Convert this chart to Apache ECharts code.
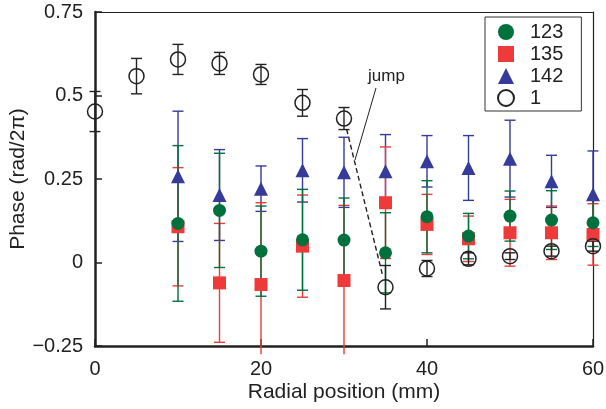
<!DOCTYPE html>
<html>
<head>
<meta charset="utf-8">
<title>Phase vs radial position</title>
<script src="https://cdn.jsdelivr.net/npm/echarts@6/dist/echarts.min.js"></script>
<style>
    html, body { margin: 0; padding: 0; background: #fff; }
    #main { width: 606px; height: 409px; }
</style>
</head>
<body>
<div id="main"></div>
<script>
    // radial positions (mm)
    var pos1 = [0, 5, 10, 15, 20, 25, 30, 35, 40, 45, 50, 55, 60];
    var pos = [10, 15, 20, 25, 30, 35, 40, 45, 50, 55, 60];

    // phase (rad/2pi) and error bars
    var phase1 = [0.452, 0.558, 0.608, 0.596, 0.563, 0.478, 0.431, -0.074, -0.018, 0.011, 0.019, 0.034, 0.049];
    var err1 = [0.06, 0.053, 0.045, 0.033, 0.03, 0.04, 0.033, 0.065, 0.024, 0.018, 0.01, 0.015, 0.015];

    var phase123 = [0.117, 0.156, 0.034, 0.068, 0.067, 0.029, 0.137, 0.079, 0.139, 0.127, 0.119];
    var err123 = [0.233, 0.171, 0.135, 0.151, 0.126, 0.12, 0.108, 0.068, 0.075, 0.088, 0.071];

    var phase135 = [0.107, -0.061, -0.066, 0.049, -0.054, 0.179, 0.114, 0.071, 0.089, 0.089, 0.084];
    var err135 = [0.177, 0.178, 0.245, 0.153, 0.225, 0.167, 0.09, 0.068, 0.1, 0.08, 0.092];

    var phase142 = [0.258, 0.202, 0.221, 0.276, 0.27, 0.273, 0.303, 0.283, 0.311, 0.243, 0.204];
    var err142 = [0.195, 0.136, 0.068, 0.095, 0.105, 0.11, 0.077, 0.097, 0.115, 0.078, 0.13];

    var yTicks = [-0.25, 0, 0.25, 0.5, 0.75];
    var yTickText = ['\u22120.25', '0', '0.25', '0.5', '0.75'];

    var FONT = '"Liberation Sans", Arial, Helvetica, sans-serif';
    var INK = '#222';
    var GREEN = '#00703c';
    var RED = '#ee3a3a';
    var BLUE = '#363b99';
    var LOW_CLIP = -0.275; // bars are cut just under the axis in the original

    function pairs(xs, ys) {
        return xs.map(function (x, i) { return [x, ys[i]]; });
    }

    function errBars(xs, ys, es, color, z) {
        return {
            type: 'custom',
            silent: true,
            clip: false,
            z: z,
            data: xs.map(function (x, i) { return [x, ys[i] - es[i], ys[i] + es[i]]; }),
            encode: { x: 0, y: [1, 2] },
            renderItem: function (params, api) {
                var x = api.value(0);
                var lo = api.coord([x, Math.max(api.value(1), LOW_CLIP)]);
                var hi = api.coord([x, api.value(2)]);
                var w = 5.5;
                var st = { stroke: color, lineWidth: 1.4 };
                var kids = [
                    { type: 'line', shape: { x1: lo[0], y1: lo[1], x2: hi[0], y2: hi[1] }, style: st },
                    { type: 'line', shape: { x1: hi[0] - w, y1: hi[1], x2: hi[0] + w, y2: hi[1] }, style: st }
                ];
                if (api.value(1) >= LOW_CLIP) {
                    kids.push({ type: 'line', shape: { x1: lo[0] - w, y1: lo[1], x2: lo[0] + w, y2: lo[1] }, style: st });
                }
                return { type: 'group', children: kids };
            }
        };
    }

    // dashed "jump" between 30 mm and 35 mm of series 1
    var jumpFrom = pos1.indexOf(30);
    var jumpData = [[pos1[jumpFrom], phase1[jumpFrom], pos1[jumpFrom + 1], phase1[jumpFrom + 1]]];

    var frameAxis = {
        axisLine: { show: true, onZero: false, lineStyle: { color: INK, width: 1.2 } },
        axisTick: { show: false },
        axisLabel: { show: false },
        splitLine: { show: false }
    };

    var myChart = echarts.init(document.getElementById('main'));

    var option = {
        animation: false,
        backgroundColor: '#fff',
        textStyle: { fontFamily: FONT },
        grid: {
            left: 95, right: 13, top: 12, bottom: 63,
            containLabel: false,
            outerBoundsMode: 'none',
            show: false
        },
        legend: {
            orient: 'vertical',
            left: 485, top: 17,
            data: ['123', '135', '142', '1'],
            borderColor: '#333', borderWidth: 1,
            padding: [5, 18, 3, 12],
            itemGap: 2,
            itemWidth: 16, itemHeight: 16,
            textStyle: { fontSize: 20, color: INK, fontFamily: FONT, padding: [0, 0, 0, 11] }
        },
        xAxis: [{
            type: 'value',
            position: 'bottom',
            min: 0, max: 60, interval: 20,
            name: 'Radial position (mm)',
            nameLocation: 'middle',
            nameGap: 36,
            nameMoveOverlap: false,
            nameTextStyle: { fontSize: 21, color: INK, fontFamily: FONT },
            axisLine: { show: true, onZero: false, lineStyle: { color: INK, width: 2.5 } },
            axisTick: { show: true, inside: true, length: 7, lineStyle: { color: INK, width: 1.5 } },
            axisLabel: { fontSize: 20, color: INK, margin: 13, fontFamily: FONT },
            splitLine: { show: false }
        }, Object.assign({ type: 'value', position: 'top', min: 0, max: 60 }, frameAxis)],
        yAxis: [{
            type: 'value',
            position: 'left',
            min: -0.25, max: 0.75, interval: 0.25,
            name: 'Phase (rad/2\u03c0)',
            nameLocation: 'middle',
            nameGap: 66,
            nameMoveOverlap: false,
            nameTextStyle: { fontSize: 21, color: INK, fontFamily: FONT },
            axisLine: { show: true, onZero: false, lineStyle: { color: INK, width: 2.5 } },
            axisTick: { show: true, inside: true, length: 7, lineStyle: { color: INK, width: 1.5 } },
            axisLabel: {
                fontSize: 20, color: INK, margin: 12, fontFamily: FONT,
                formatter: function (v) {
                    for (var i = 0; i < yTicks.length; i++) {
                        if (Math.abs(yTicks[i] - v) < 1e-9) return yTickText[i];
                    }
                    return '';
                }
            },
            splitLine: { show: false }
        }, Object.assign({ type: 'value', position: 'right', min: -0.25, max: 0.75 }, frameAxis)],
        graphic: [
            {
                type: 'text', left: 368, top: 68, z: 50,
                style: { text: 'jump', fontSize: 17, fill: INK, fontFamily: FONT }
            },
            {
                type: 'line', z: 50,
                shape: { x1: 376, y1: 88, x2: 355, y2: 160 },
                style: { stroke: INK, lineWidth: 1 }
            }
        ],
        series: [
            {
                type: 'custom',
                silent: true,
                z: 2,
                data: jumpData,
                encode: { x: [0, 2], y: [1, 3] },
                renderItem: function (params, api) {
                    var a = api.coord([api.value(0), api.value(1)]);
                    var b = api.coord([api.value(2), api.value(3)]);
                    var dx = b[0] - a[0], dy = b[1] - a[1];
                    var len = Math.sqrt(dx * dx + dy * dy);
                    var r = 11;
                    return {
                        type: 'line',
                        shape: {
                            x1: a[0] + dx * r / len, y1: a[1] + dy * r / len,
                            x2: b[0] - dx * r / len, y2: b[1] - dy * r / len
                        },
                        style: { stroke: INK, lineWidth: 1.4, lineDash: [5, 3] }
                    };
                }
            },
            errBars(pos, phase142, err142, BLUE, 3),
            errBars(pos, phase135, err135, RED, 4),
            errBars(pos, phase123, err123, GREEN, 5),
            errBars(pos1, phase1, err1, INK, 6),
            {
                name: '142', type: 'scatter', z: 7,
                symbol: 'triangle', symbolSize: 14,
                itemStyle: { color: BLUE, opacity: 1 },
                data: pairs(pos, phase142)
            },
            {
                name: '135', type: 'scatter', z: 8,
                symbol: 'rect', symbolSize: 13,
                itemStyle: { color: RED, opacity: 1 },
                data: pairs(pos, phase135)
            },
            {
                name: '123', type: 'scatter', z: 9,
                symbol: 'circle', symbolSize: 13,
                itemStyle: { color: GREEN, opacity: 1 },
                data: pairs(pos, phase123)
            },
            {
                name: '1', type: 'scatter', z: 10,
                symbol: 'circle', symbolSize: 15,
                itemStyle: { color: 'rgba(255,255,255,0)', borderColor: INK, borderWidth: 1.5, opacity: 1 },
                data: pairs(pos1, phase1)
            }
        ]
    };

    myChart.setOption(option);
</script>
</body>
</html>
